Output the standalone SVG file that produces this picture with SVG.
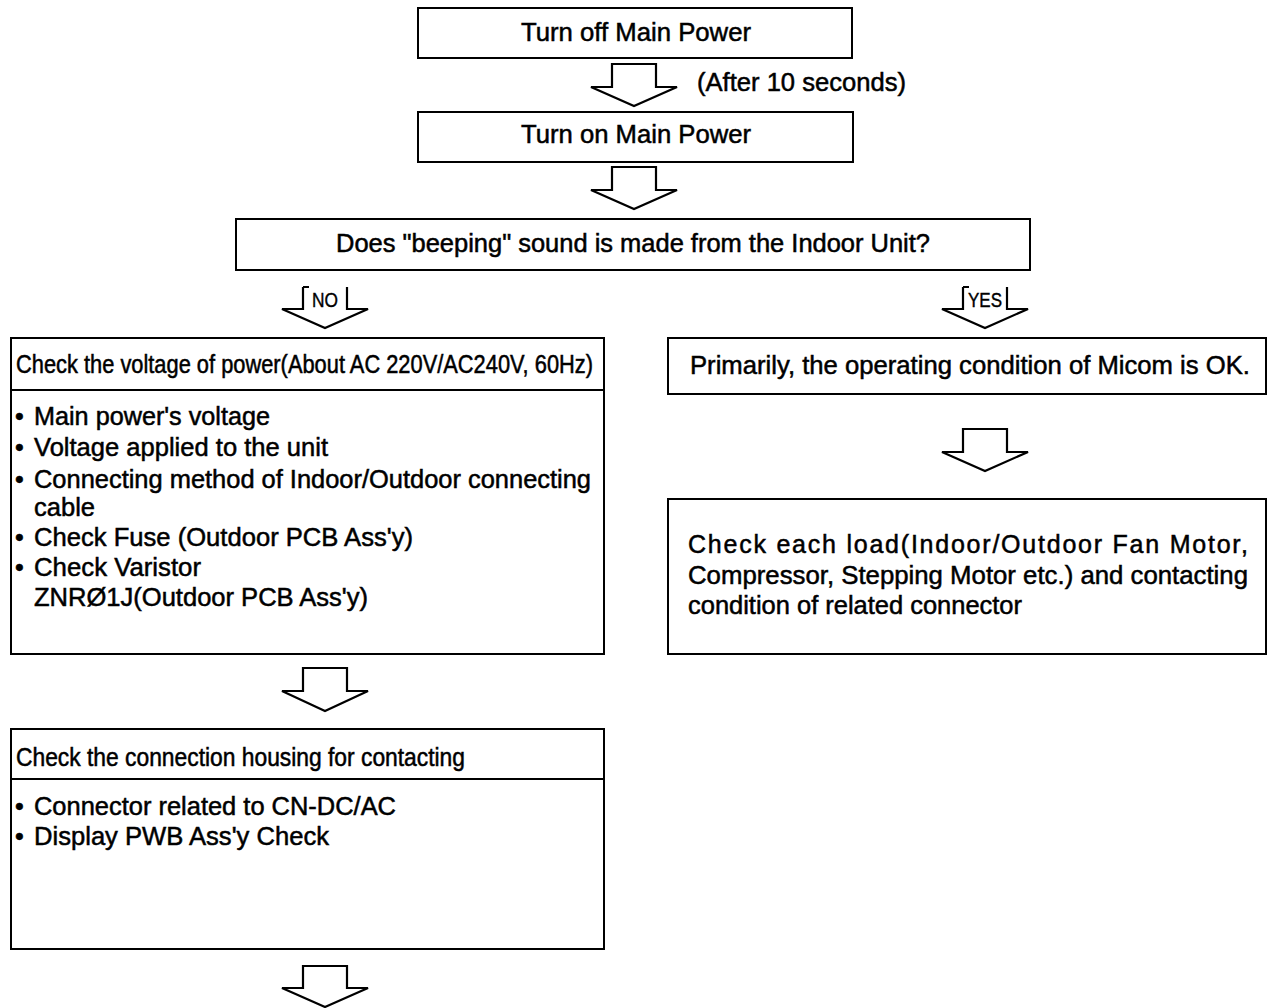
<svg xmlns="http://www.w3.org/2000/svg" width="1268" height="1008" viewBox="0 0 1268 1008">
<style>
.box{fill:#fff;stroke:#000;stroke-width:2}
.sep{stroke:#000;stroke-width:2}
.arr{fill:#fff;stroke:#000;stroke-width:2.2;stroke-linejoin:miter}
.arrl{fill:none;stroke:#000;stroke-width:2.2;stroke-linejoin:miter}
.t{font-family:"Liberation Sans",Arial,Helvetica,sans-serif;font-size:25px;fill:#000;stroke:#000;stroke-width:0.5}
.lab{font-family:"Liberation Sans",Arial,Helvetica,sans-serif;font-size:20px;fill:#000;stroke:#000;stroke-width:0.4;text-anchor:middle}
</style>
<rect width="1268" height="1008" fill="#fff"/>

<g id="connectors">
  <path class="arr" d="M612,64 H656 V87 H677 L634,106 L591,87 H612 Z"/>
  <text class="t" x="697" y="91" textLength="209" lengthAdjust="spacingAndGlyphs">(After 10 seconds)</text>
  <path class="arr" d="M612,167 H656 V190 H677 L634,209 L591,190 H612 Z"/>
  <path class="arrl" d="M303,287 V309 H282 L325,328 L368,309 H347 V287 M303,287 h6"/>
  <text class="lab" x="325" y="307" textLength="26" lengthAdjust="spacingAndGlyphs">NO</text>
  <path class="arrl" d="M963,287 V309 H942 L985,328 L1028,309 H1007 V287 M963,287 h6"/>
  <text class="lab" x="985" y="307" textLength="34" lengthAdjust="spacingAndGlyphs">YES</text>
  <path class="arr" d="M963,429 H1007 V452 H1028 L985,471 L942,452 H963 Z"/>
  <path class="arr" d="M303,668 H347 V691 H368 L325,711 L282,691 H303 Z"/>
  <path class="arr" d="M303,966 H347 V988 H368 L325,1007 L282,988 H303 Z"/>
</g>

<g id="turn-off">
  <rect class="box" x="418" y="8" width="434" height="50"/>
  <text class="t" x="521" y="41" textLength="230" lengthAdjust="spacingAndGlyphs">Turn off Main Power</text>
</g>

<g id="turn-on">
  <rect class="box" x="418" y="112" width="435" height="50"/>
  <text class="t" x="521" y="143" textLength="230" lengthAdjust="spacingAndGlyphs">Turn on Main Power</text>
</g>

<g id="beeping">
  <rect class="box" x="236" y="219" width="794" height="51"/>
  <text class="t" x="336" y="252" textLength="594" lengthAdjust="spacingAndGlyphs">Does "beeping" sound is made from the Indoor Unit?</text>
</g>

<g id="check-voltage">
  <rect class="box" x="11" y="338" width="593" height="316"/>
  <line class="sep" x1="11" y1="390" x2="604" y2="390"/>
  <text class="t" x="16" y="373" textLength="577" lengthAdjust="spacingAndGlyphs">Check the voltage of power(About AC 220V/AC240V, 60Hz)</text>
  <text class="t" x="15" y="425">•<tspan x="34" textLength="236" lengthAdjust="spacingAndGlyphs">Main power's voltage</tspan></text>
  <text class="t" x="15" y="456">•<tspan x="34" textLength="294" lengthAdjust="spacingAndGlyphs">Voltage applied to the unit</tspan></text>
  <text class="t" x="15" y="488">•<tspan x="34" textLength="557" lengthAdjust="spacingAndGlyphs">Connecting method of Indoor/Outdoor connecting</tspan></text>
  <text class="t" x="34" y="516" textLength="61" lengthAdjust="spacingAndGlyphs">cable</text>
  <text class="t" x="15" y="546">•<tspan x="34" textLength="379" lengthAdjust="spacingAndGlyphs">Check Fuse (Outdoor PCB Ass'y)</tspan></text>
  <text class="t" x="15" y="576">•<tspan x="34" textLength="167" lengthAdjust="spacingAndGlyphs">Check Varistor</tspan></text>
  <text class="t" x="34" y="606" textLength="334" lengthAdjust="spacingAndGlyphs">ZNRØ1J(Outdoor PCB Ass'y)</text>
</g>

<g id="micom-ok">
  <rect class="box" x="668" y="338" width="598" height="56"/>
  <text class="t" x="690" y="374" textLength="560" lengthAdjust="spacingAndGlyphs">Primarily, the operating condition of Micom is OK.</text>
</g>

<g id="check-load">
  <rect class="box" x="668" y="499" width="598" height="155"/>
  <text class="t" x="688" y="553" textLength="560" lengthAdjust="spacing">Check each load(Indoor/Outdoor Fan Motor,</text>
  <text class="t" x="688" y="584" textLength="560" lengthAdjust="spacingAndGlyphs">Compressor, Stepping Motor etc.) and contacting</text>
  <text class="t" x="688" y="614" textLength="334" lengthAdjust="spacingAndGlyphs">condition of related connector</text>
</g>

<g id="check-housing">
  <rect class="box" x="11" y="729" width="593" height="220"/>
  <line class="sep" x1="11" y1="779" x2="604" y2="779"/>
  <text class="t" x="16" y="766" textLength="449" lengthAdjust="spacingAndGlyphs">Check the connection housing for contacting</text>
  <text class="t" x="15" y="815">•<tspan x="34" textLength="362" lengthAdjust="spacingAndGlyphs">Connector related to CN-DC/AC</tspan></text>
  <text class="t" x="15" y="845">•<tspan x="34" textLength="295" lengthAdjust="spacingAndGlyphs">Display PWB Ass'y Check</tspan></text>
</g>
</svg>
